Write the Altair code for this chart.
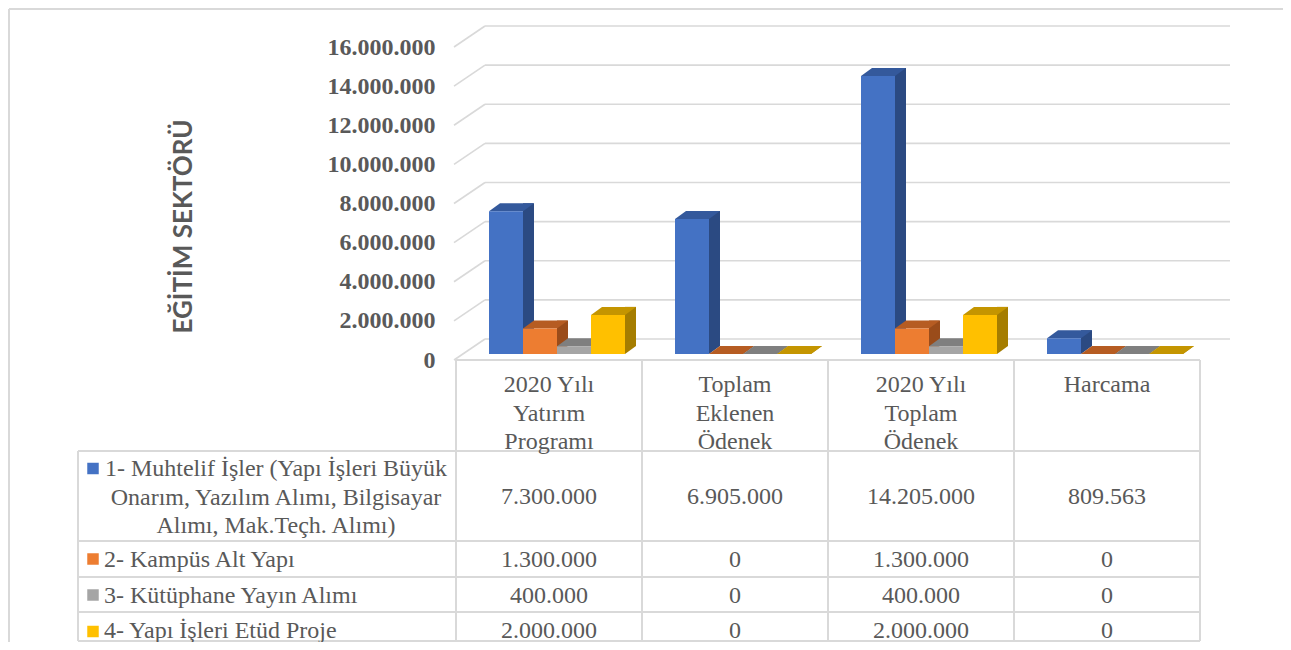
import altair as alt
import pandas as pd

# ---------------- data ----------------
categories = ["2020 Yılı\nYatırım\nProgramı", "Toplam\nEklenen\nÖdenek",
              "2020 Yılı\nToplam\nÖdenek", "Harcama"]
series = ["1- Muhtelif İşler (Yapı İşleri Büyük\nOnarım, Yazılım Alımı, Bilgisayar\nAlımı, Mak.Teçh. Alımı)",
          "2- Kampüs Alt Yapı", "3- Kütüphane Yayın Alımı", "4- Yapı İşleri Etüd Proje"]
muhtelif = [7300000, 6905000, 14205000, 809563]
kampus = [1300000, 0, 1300000, 0]
kutuphane = [400000, 0, 400000, 0]
etud = [2000000, 0, 2000000, 0]
y_ticks = [0, 2000000, 4000000, 6000000, 8000000, 10000000, 12000000, 14000000, 16000000]
y_title = "EĞİTİM SEKTÖRÜ"

values_by_series = [muhtelif, kampus, kutuphane, etud]
rows = []
for s, vals in zip(series, values_by_series):
    for c, v in zip(categories, vals):
        rows.append({"cat": c, "ser": s, "v": v, "zero": 0})
df = pd.DataFrame(rows)
grid_df = pd.DataFrame({"v": y_ticks})
cat_df = pd.DataFrame({"cat": categories})
one = pd.DataFrame({"k": [0]})

# ---------------- style ----------------
front_colors = ["#4472C4", "#ED7D31", "#A5A5A5", "#FFC000"]
top_colors = ["#34599C", "#B65C22", "#7F7F7F", "#C49500"]
side_colors = ["#2B4A82", "#9A4C1A", "#6C6C6C", "#A57D00"]
GRID = "#D9D9D9"
TXT = "#595959"
SERIF = "Liberation Serif"
W, H = 744, 313
FLOOR = -6      # bar base above the front floor edge
WALL = -21      # back wall shift
FS = 24
LH = 28.5

fmt = "replace(format(datum.v, ','), regexp(',', 'g'), '.')"

xs = alt.Scale(domain=categories, paddingInner=0, paddingOuter=0)
x_enc = alt.X("cat:N", scale=xs, axis=None)
ylin = alt.Scale(domain=[0, 16000000], nice=False, zero=True)

y_axis = alt.Axis(values=y_ticks, labelExpr="replace(format(datum.value, ','), regexp(',', 'g'), '.')",
                  labelFont=SERIF, labelFontWeight="bold", labelFontSize=24, labelColor=TXT,
                  ticks=False, tickSize=0, domain=False, grid=False, labelPadding=21,
                  title=y_title, titleFont="Lato", titleFontSize=26, titleFontWeight="bold",
                  titleColor=TXT, titleX=-273, titleY=179, titleAngle=-90,
                  titleAlign="center", titleBaseline="middle")


def yv(field):
    return alt.Y(field, type="quantitative", scale=ylin, axis=y_axis)


def off(rng):
    return alt.XOffset("ser:N", scale=alt.Scale(type="band", domain=series, range=rng,
                                                 paddingInner=0, paddingOuter=0))


def col(rng):
    return alt.Color("ser:N", scale=alt.Scale(domain=series, range=rng), legend=None)


front_off = [33, 169]
side_off = [55.5, 191.5]

# back wall gridlines + side wall diagonals
back = alt.Chart(grid_df).mark_rule(color=GRID, strokeWidth=1.6, yOffset=WALL).encode(
    x=alt.value(29), x2=alt.value(774), y=yv("v"))
diag = alt.Chart(grid_df).mark_rule(color=GRID, strokeWidth=1.6, y2Offset=WALL).encode(
    x=alt.value(-2), x2=alt.value(29), y=yv("v"), y2="v:Q")

# 3D bars (shape paths are the bar's depth faces, anchored at the front-top centre)
side = alt.Chart(df).mark_bar(width=11, yOffset=FLOOR - 8, y2Offset=FLOOR - 8).encode(
    x=x_enc, xOffset=off(side_off), y=yv("v"), color=col(side_colors))
tri = alt.Chart(df).mark_point(shape="M17,0L28,-8L17,-8Z", size=4, filled=True, opacity=1,
                               strokeWidth=0, yOffset=FLOOR).encode(
    x=x_enc, xOffset=off(front_off), y=yv("zero"), color=col(side_colors))
top = alt.Chart(df).mark_point(shape="M-17,0L17,0L28,-8L-6,-8Z", size=4, filled=True, opacity=1,
                               strokeWidth=0, yOffset=FLOOR).encode(
    x=x_enc, xOffset=off(front_off), y=yv("v"), color=col(top_colors))
front = alt.Chart(df).mark_bar(yOffset=FLOOR, y2Offset=FLOOR).encode(
    x=x_enc, xOffset=off(front_off), y=yv("v"), color=col(front_colors))

layers = [back, diag, side, tri, top, front]

# table borders
for yy, x0 in [(313, 0), (404, -378), (494, -378), (530, -378), (565, -378), (594, -378)]:
    layers.append(alt.Chart(one).mark_rule(color=GRID, strokeWidth=2).encode(
        x=alt.value(x0), x2=alt.value(W), y=alt.value(yy)))
layers.append(alt.Chart(one).mark_rule(color=GRID, strokeWidth=2).encode(
    x=alt.value(-378), y=alt.value(404), y2=alt.value(594)))
layers.append(alt.Chart(cat_df).mark_rule(color=GRID, strokeWidth=2).encode(
    x=alt.X("cat:N", scale=xs, axis=None, bandPosition=0), y=alt.value(313), y2=alt.value(594)))
layers.append(alt.Chart(cat_df).transform_filter(alt.datum.cat == categories[-1]).mark_rule(
    color=GRID, strokeWidth=2).encode(
    x=alt.X("cat:N", scale=xs, axis=None, bandPosition=1), y=alt.value(313), y2=alt.value(594)))

# outer frame (left and top edges)
layers.append(alt.Chart(one).mark_rule(color=GRID, strokeWidth=2).encode(
    x=alt.value(-447), y=alt.value(-38), y2=alt.value(600)))
layers.append(alt.Chart(one).mark_rule(color=GRID, strokeWidth=2).encode(
    x=alt.value(-447), x2=alt.value(840), y=alt.value(-38)))

txt = dict(font=SERIF, fontSize=FS, color=TXT, lineBreak="\n", lineHeight=LH, baseline="alphabetic")

# header
layers.append(alt.Chart(cat_df).mark_text(**txt).encode(x=x_enc, y=alt.value(345), text="cat:N"))

# row labels, keys and values
label_y = [429, 520, 556, 591]
key_y = [421.5, 512, 548, 584.5]
for i, s in enumerate(series):
    sd = pd.DataFrame({"ser": [s]})
    if i == 0:
        lab = alt.Chart(sd).mark_text(align="center", **txt).encode(
            x=alt.value(-180), y=alt.value(label_y[i]), text="ser:N")
    else:
        lab = alt.Chart(sd).mark_text(align="left", **txt).encode(
            x=alt.value(-352), y=alt.value(label_y[i]), text="ser:N")
    key = alt.Chart(sd).mark_point(shape="square", size=132, filled=True, opacity=1, strokeWidth=0).encode(
        x=alt.value(-363), y=alt.value(key_y[i]), color=col(front_colors))
    vy = 457 if i == 0 else label_y[i]
    vals = alt.Chart(df).transform_filter(alt.datum.ser == s).transform_calculate(lbl=fmt).mark_text(
        **txt).encode(x=x_enc, y=alt.value(vy), text="lbl:N")
    layers += [lab, key, vals]

chart = alt.layer(*layers).resolve_scale(color="independent", xOffset="independent").properties(
    width=W, height=H,
    background="white",
    autosize=alt.AutoSizeParams(type="none"),
    padding={"left": 448, "top": 39, "right": 83, "bottom": 282},
).configure_view(stroke=None, strokeWidth=0)

chart.save("out.html", embed_options={"renderer": "svg", "actions": False})
